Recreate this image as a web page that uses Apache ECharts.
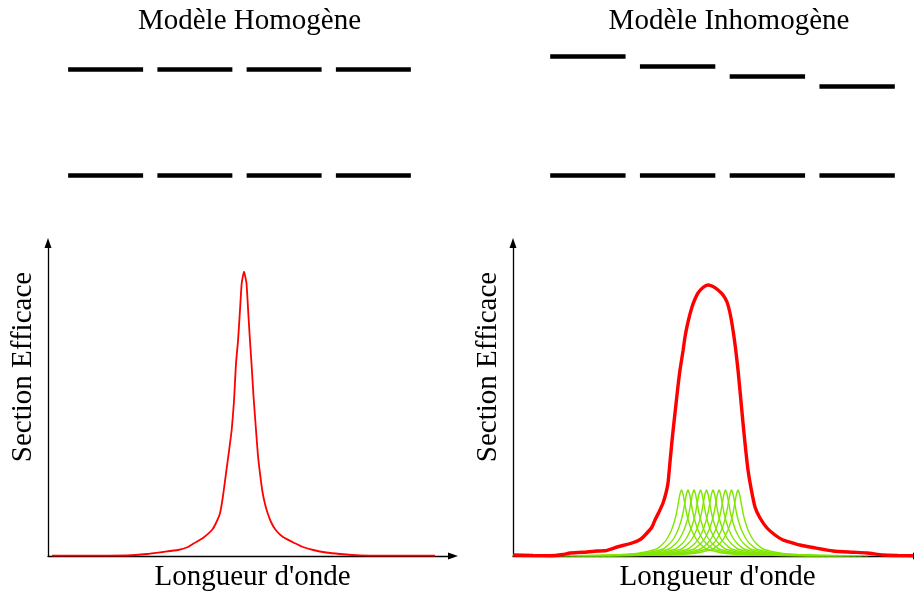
<!DOCTYPE html>
<html><head><meta charset="utf-8">
<script src="https://cdn.jsdelivr.net/npm/echarts/dist/echarts.min.js"></script>
<style>html,body{margin:0;padding:0;background:#fff}#c{width:914px;height:594px}</style>
</head><body><div id="c"></div>
<script>
// ---- text ----
const panelTitles = ['Modèle Homogène', 'Modèle Inhomogène'];
const yAxisName = 'Section Efficace';
const xAxisName = "Longueur d'onde";

// ---- energy levels (arbitrary energy units, ground = 0) ----
const sites = [0, 1, 2, 3];
const homUpper = [106, 106, 106, 106];
const homLower = [0, 0, 0, 0];
const inhUpper = [119, 109, 99, 89];
const inhLower = [0, 0, 0, 0];

// ---- spectra (x: wavelength arb. units, y: cross-section arb. units) ----
const homSpectrum = [
  [4,0.4],[30,0.4],[60,0.4],[79,0.5],[99,2],[115,4],[130,6],[140,9],[146,12.7],[155,18],
  [164,26],[168,33],[172,42.7],[175,60],[178,82.7],[181,105],[183.7,126],[186,155],[188,192.7],
  [190,215],[191.8,242.7],[193.7,272.7],[196,284.3],[198.5,272.7],[200.3,242.7],[202,215],
  [203.5,192.7],[205.5,160],[208,126],[210,100],[212,82.7],[214.5,64],[217,52],[219.7,42.7],
  [223,34],[227.7,26],[235,19],[247,12.7],[255,9],[265.3,6],[278,3.5],[292,2],[312,0.6],
  [340,0.4],[387,0.4]
];
const inhSpectrum = [
  [0,1],[20,0.5],[37,0.3],[50,1.5],[57,3],[70,3.7],[84,5],[92,5.2],[104,9],[119,13],[128,17],
  [134,23],[139,29],[142,36],[146,44],[150,53],[153,63],[155,73],[157,94],[159,115],[161,134],
  [163,152],[165,170],[167,186],[170,205],[172,219],[175,234],[179,249],[182,257],[185,263],
  [190,268.5],[195,271],[200,269.5],[205,266],[210,261],[214,254],[217,243],[220,226],
  [222.5,208],[225,186],[227.5,160],[230,133],[232.5,108],[235,86],[238,68],[242,49],[247,38],
  [254,28],[262,21],[270,16],[280,13],[287,11],[300,8.5],[320,5],[340,3.8],[354,3],[370,1],
  [385,0.5],[400,0.3]
];
// individual homogeneous lines of the inhomogeneous ensemble
const greenCenters = [168.5, 175, 181, 187.5, 193.5, 200, 206, 212.5, 218.5, 225];
const greenProfile = [
  [-130,0.3],[-100,0.5],[-80,0.8],[-60,1.5],[-45,2.5],[-35,4.3],[-25,7],[-18,12.7],[-14,18],
  [-10,26],[-7,35],[-5,43],[-3,54],[-1.5,62],[0,66],[1.5,62],[3,54],[5,43],[7,35],[10,26],
  [14,18],[18,12.7],[25,7],[35,4.3],[45,2.5],[60,1.5],[80,0.8],[100,0.5],[130,0.3]
];

const FONT = 'Liberation Serif, Times New Roman, serif';
const SEG_PAD = 0.08;
function levelLines(upper, lower) {
  const d = [];
  sites.forEach((s, i) => {
    d.push({coords: [[s + SEG_PAD, upper[i]], [s + 1 - SEG_PAD, upper[i]]]});
    d.push({coords: [[s + SEG_PAD, lower[i]], [s + 1 - SEG_PAD, lower[i]]]});
  });
  return d;
}
const hidden = {show: false};
function levelAxes(idx) {
  return {
    x: {type: 'value', gridIndex: idx, min: 0, max: 4, show: false},
    y: {type: 'value', gridIndex: idx, min: -25, max: 175, show: false}
  };
}
function specAxes(idx) {
  const line = {show: true, onZero: false, symbol: ['none', 'triangle'], symbolSize: [7, 10],
    lineStyle: {color: '#000', width: 1.3}};
  return {
    x: {type: 'value', gridIndex: idx, min: 0, max: 405, axisLine: line, axisTick: hidden,
        axisLabel: hidden, splitLine: hidden},
    y: {type: 'value', gridIndex: idx, min: 0, max: 313, axisLine: line, axisTick: hidden,
        axisLabel: hidden, splitLine: hidden}
  };
}
const a0 = levelAxes(0), a1 = levelAxes(1), a2 = specAxes(2), a3 = specAxes(3);

const series = [
  {type: 'lines', coordinateSystem: 'cartesian2d', xAxisIndex: 0, yAxisIndex: 0, polyline: false,
   lineStyle: {color: '#000', width: 4.6, opacity: 1, cap: 'butt'}, data: levelLines(homUpper, homLower)},
  {type: 'lines', coordinateSystem: 'cartesian2d', xAxisIndex: 1, yAxisIndex: 1, polyline: false,
   lineStyle: {color: '#000', width: 4.6, opacity: 1, cap: 'butt'}, data: levelLines(inhUpper, inhLower)},
  {type: 'line', xAxisIndex: 2, yAxisIndex: 2, data: homSpectrum, showSymbol: false, smooth: 0.15,
   lineStyle: {color: '#ff0000', width: 1.8}, z: 5}
];
greenCenters.forEach(c => {
  series.push({type: 'line', xAxisIndex: 3, yAxisIndex: 3, showSymbol: false, smooth: 0.2,
    data: greenProfile.map(p => [c + p[0], p[1]]),
    lineStyle: {color: '#80e600', width: 1.4}, z: 3});
});
series.push({type: 'line', xAxisIndex: 3, yAxisIndex: 3, data: inhSpectrum, showSymbol: false,
  smooth: 0.2, lineStyle: {color: '#ff0000', width: 3.4}, z: 6});

function txt(text, x, y, rot) {
  return {type: 'text', x: x, y: y, rotation: rot || 0, z: 10,
    style: {text: text, font: '29px ' + FONT, fill: '#000', align: 'center', verticalAlign: 'middle'}};
}

const chart = echarts.init(document.getElementById('c'), null, {renderer: 'canvas'});
chart.setOption({
  animation: false,
  backgroundColor: '#fff',
  grid: [
    {left: 61, top: 0, width: 357, height: 200, outerBoundsMode: 'none'},
    {left: 543, top: 0, width: 359, height: 200, outerBoundsMode: 'none'},
    {left: 48, top: 243, width: 405, height: 313, outerBoundsMode: 'none'},
    {left: 513, top: 243, width: 405, height: 313, outerBoundsMode: 'none'}
  ],
  xAxis: [a0.x, a1.x, a2.x, a3.x],
  yAxis: [a0.y, a1.y, a2.y, a3.y],
  series: series,
  graphic: [
    txt(panelTitles[0], 249.5, 21),
    txt(panelTitles[1], 729, 21),
    txt(yAxisName, 23.5, 367, Math.PI / 2),
    txt(yAxisName, 488.5, 367, Math.PI / 2),
    txt(xAxisName, 252.5, 577),
    txt(xAxisName, 717.5, 577)
  ]
});
</script></body></html>
